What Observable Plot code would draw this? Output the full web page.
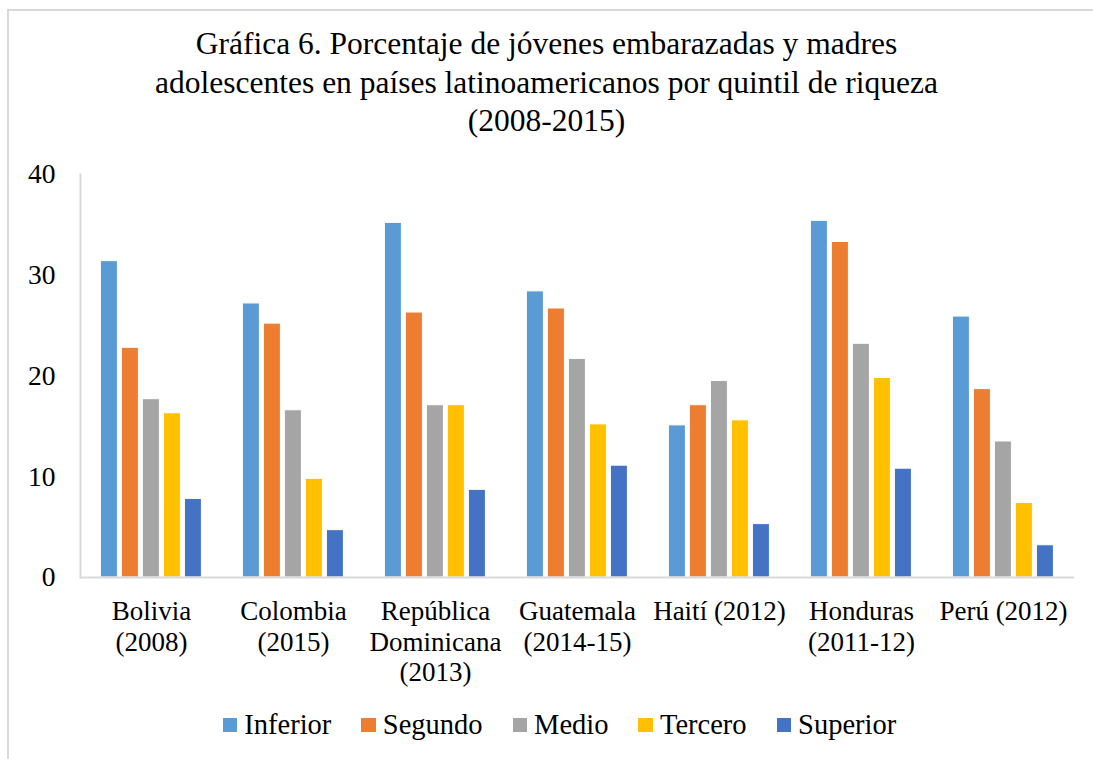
<!DOCTYPE html>
<html>
<head>
<meta charset="utf-8">
<script src="https://cdn.jsdelivr.net/npm/d3@7"></script>
<script src="https://cdn.jsdelivr.net/npm/@observablehq/plot@0.6"></script>
<style>
  html, body { margin: 0; padding: 0; background: #fff; overflow: hidden; }
  #page, #page * { font-family: "Liberation Serif", "Times New Roman", serif; }
  #page { position: relative; width: 1093px; height: 759px; overflow: hidden; color: #000; }
  #border { position: absolute; left: 7px; top: 9px; width: 1200px; height: 900px; border: 2px solid #d9d9d9; box-sizing: border-box; }
  #title { position: absolute; left: 0; width: 1093px; top: 25px; text-align: center; font-size: 31.5px; line-height: 38.5px; }
  #chart { position: absolute; left: 0; top: 150px; }
  #legend { position: absolute; left: 13px; width: 1093px; top: 708px; display: flex; justify-content: center; align-items: center; font-size: 28.5px; line-height: 34px; }
  .item { display: flex; align-items: center; margin: 0 15px; }
  .sw { width: 14.5px; height: 14.5px; margin-right: 7px; display: inline-block; }
</style>
</head>
<body>
<div id="page">
  <div id="border"></div>
  <div id="title">Gráfica 6. Porcentaje de jóvenes embarazadas y madres<br>adolescentes en países latinoamericanos por quintil de riqueza<br>(2008-2015)</div>
  <div id="chart"></div>
  <div id="legend"></div>
</div>
<script>
const countries = ["Bolivia\n(2008)", "Colombia\n(2015)", "República\nDominicana\n(2013)", "Guatemala\n(2014-15)", "Haití (2012)", "Honduras\n(2011-12)", "Perú (2012)"];
const quintiles = ["Inferior", "Segundo", "Medio", "Tercero", "Superior"];
const colors = ["#5b9bd5", "#ed7d31", "#a5a5a5", "#ffc000", "#4472c4"];
const inferior = [31.4, 27.2, 35.2, 28.4, 15.1, 35.4, 25.9];
const segundo  = [22.8, 25.2, 26.3, 26.7, 17.1, 33.3, 18.7];
const medio    = [17.7, 16.6, 17.1, 21.7, 19.5, 23.2, 13.5];
const tercero  = [16.3, 9.8, 17.1, 15.2, 15.6, 19.8, 7.4];
const superior = [7.8, 4.7, 8.7, 11.1, 5.3, 10.8, 3.2];
const yTicks = [0, 10, 20, 30, 40];

const series = [inferior, segundo, medio, tercero, superior];
const data = [];
countries.forEach((c, i) => {
  quintiles.forEach((q, j) => data.push({country: c, quintile: q, value: series[j][i]}));
});

const font = "Liberation Serif, Times New Roman, serif";
const chart = Plot.plot({
  width: 1093,
  height: 560,
  marginLeft: 79.6,
  marginRight: 18.4,
  marginTop: 24,
  marginBottom: 133,
  style: {fontFamily: font, background: "transparent", color: "#000"},
  fx: {domain: countries, padding: 0, label: null},
  x: {domain: quintiles, paddingInner: 0.21, paddingOuter: 0.85, axis: null},
  y: {domain: [0, 40], label: null},
  color: {domain: quintiles, range: colors},
  marks: [
    Plot.barY(data, {fx: "country", x: "quintile", y: "value", fill: "quintile", stroke: "white", strokeWidth: 1}),
    Plot.ruleY([0], {stroke: "#d9d9d9", strokeWidth: 2}),
    Plot.frame({anchor: "left", stroke: "#d9d9d9", strokeWidth: 2, facet: "super"}),
    Plot.axisY({ticks: yTicks, tickSize: 0, tickPadding: 25, fontSize: 27.5, fontFamily: font, label: null, fill: "#000"}),
    Plot.axisFx({anchor: "bottom", tickSize: 0, tickPadding: 21, fontSize: 27, fontFamily: font, lineHeight: 1.13, label: null, fill: "#000"})
  ]
});
document.getElementById("chart").appendChild(chart);

const legend = document.getElementById("legend");
quintiles.forEach((q, i) => {
  const it = document.createElement("div");
  it.className = "item";
  it.innerHTML = `<span class="sw" style="background:${colors[i]}"></span><span>${q}</span>`;
  legend.appendChild(it);
});
</script>
</body>
</html>
